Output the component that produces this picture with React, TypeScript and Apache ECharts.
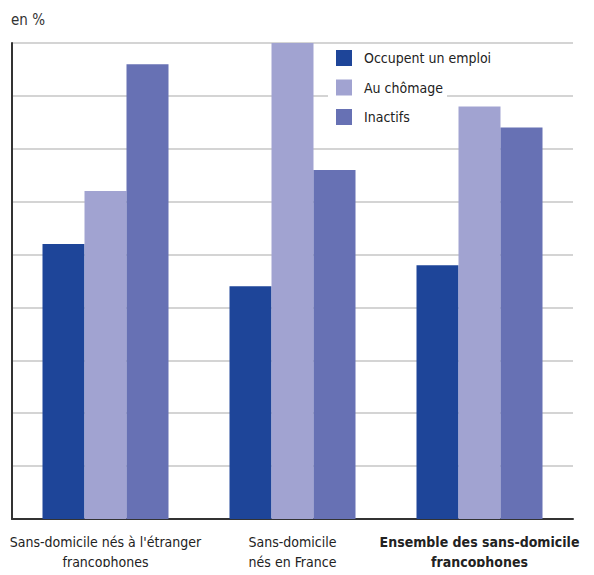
import React, { useEffect, useRef } from "react";
import * as echarts from "echarts";

const categories = [
  "Sans-domicile nés à l'étranger\nfrancophones",
  "Sans-domicile\nnés en France",
  "Ensemble des sans-domicile\nfrancophones",
];
const seriesNames = ["Occupent un emploi", "Au chômage", "Inactifs"];
const occupent = [26, 22, 24];
const chomage = [31, 45, 39];
const inactifs = [43, 33, 37];
const colors = ["#1E4599", "#A1A3D1", "#6771B4"];

const FONT = "'Liberation Sans Narrow', 'DejaVu Sans Condensed', 'Roboto', sans-serif";

export default function App() {
  const ref = useRef<HTMLDivElement>(null);
  useEffect(() => {
    if (!ref.current) return;
    const chart = echarts.init(ref.current, null, { renderer: "svg" });
    const values = [occupent, chomage, inactifs];
    chart.setOption({
      animation: false,
      textStyle: { fontFamily: FONT },
      grid: { left: 12, right: 21, top: 43, bottom: 56, containLabel: false },
      title: {
        text: "en %",
        left: 6,
        top: 7,
        textStyle: { fontFamily: FONT, fontSize: 15, fontWeight: "normal", color: "#333" },
      },
      legend: {
        orient: "vertical",
        left: 331,
        top: 45,
        itemWidth: 16,
        itemHeight: 16,
        itemGap: 13.5,
        icon: "rect",
        data: seriesNames,
        textStyle: { fontFamily: FONT, fontSize: 14, color: "#222", padding: [0, 0, 0, 7] },
        z: 5,
      },
      graphic: [
        {
          type: "rect",
          shape: { x: 328, y: 87, width: 119, height: 18 },
          style: { fill: "#fff" },
          z: 1,
          silent: true,
        },
      ],
      xAxis: {
        type: "category",
        data: categories.map((c, i) =>
          i === 2 ? { value: c, textStyle: { fontWeight: "bold" } } : c
        ),
        axisLine: { show: true, lineStyle: { color: "#333", width: 2 } },
        axisTick: { show: false },
        axisLabel: {
          interval: 0,
          margin: 13,
          fontFamily: FONT,
          fontSize: 14,
          lineHeight: 20,
          color: "#222",
        },
      },
      yAxis: {
        type: "value",
        min: 0,
        max: 45,
        interval: 5,
        axisLine: { show: true, lineStyle: { color: "#333", width: 2 } },
        axisTick: { show: false },
        axisLabel: { show: false },
        splitLine: { show: true, lineStyle: { color: "#c6c6c6", width: 1.5 } },
      },
      series: seriesNames.map((name, i) => ({
        name,
        type: "bar",
        data: values[i],
        barWidth: 42,
        barGap: "0%",
        itemStyle: { color: colors[i] },
        z: 2,
      })),
    });
    return () => chart.dispose();
  }, []);
  return <div ref={ref} style={{ width: 594, height: 575, margin: -8 }} />;
}
